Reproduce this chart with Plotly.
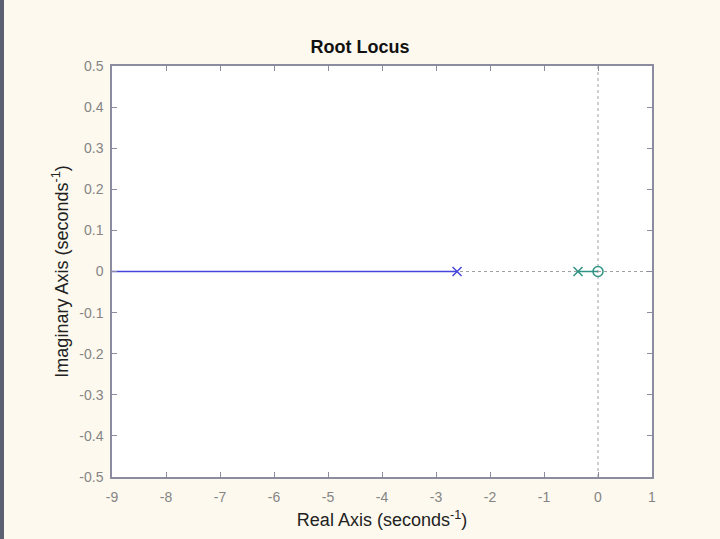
import plotly.graph_objects as go

# Root locus data
branch1_re = [-9.0, -2.61]
branch1_im = [0.0, 0.0]
branch2_re = [-0.37, 0.0]
branch2_im = [0.0, 0.0]
poles_re = [-2.61, -0.37]
poles_im = [0.0, 0.0]
zeros_re = [0.0]
zeros_im = [0.0]

x_ticks = [-9, -8, -7, -6, -5, -4, -3, -2, -1, 0, 1]
y_ticks = [-0.5, -0.4, -0.3, -0.2, -0.1, 0, 0.1, 0.2, 0.3, 0.4, 0.5]
y_labels = ["-0.5", "-0.4", "-0.3", "-0.2", "-0.1", "0",
            "0.1", "0.2", "0.3", "0.4", "0.5"]

blue = "#4646dc"
teal = "#2f9484"
axis_col = "#8c8ca0"

fig = go.Figure()

# dotted axes through the origin
fig.add_trace(go.Scatter(x=[-9, 1], y=[0, 0], mode="lines",
                         line=dict(color="#a0a0a0", width=1, dash="dot"),
                         hoverinfo="skip", showlegend=False))
fig.add_trace(go.Scatter(x=[0, 0], y=[-0.5, 0.5], mode="lines",
                         line=dict(color="#a0a0a0", width=1, dash="dot"),
                         hoverinfo="skip", showlegend=False))

fig.add_trace(go.Scatter(x=branch1_re, y=branch1_im, mode="lines",
                         line=dict(color=blue, width=1.5), showlegend=False))
fig.add_trace(go.Scatter(x=branch2_re, y=branch2_im, mode="lines",
                         line=dict(color=teal, width=1.5), showlegend=False))
fig.add_trace(go.Scatter(x=poles_re[:1], y=poles_im[:1], mode="markers",
                         marker=dict(symbol="x-thin", size=9, color=blue,
                                     line=dict(color=blue, width=1.5)),
                         showlegend=False))
fig.add_trace(go.Scatter(x=poles_re[1:], y=poles_im[1:], mode="markers",
                         marker=dict(symbol="x-thin", size=9, color=teal,
                                     line=dict(color=teal, width=1.5)),
                         showlegend=False))
fig.add_trace(go.Scatter(x=zeros_re, y=zeros_im, mode="markers",
                         marker=dict(symbol="circle-open", size=10, color=teal,
                                     line=dict(color=teal, width=1.5)),
                         showlegend=False))

L, R, T, B = 112, 68, 66, 62
W, H = 720, 539
pw, ph = W - L - R, H - T - B

# dark strip on the left edge of the screenshot
fig.add_shape(type="rect", xref="paper", yref="paper",
              x0=-L / pw, x1=(4 - L) / pw, y0=-B / ph, y1=(H - B) / ph,
              fillcolor="#5c6070", line_width=0, layer="below")

fig.update_layout(
    width=W, height=H,
    margin=dict(l=L, r=R, t=T, b=B),
    paper_bgcolor="#fdf9ee",
    plot_bgcolor="white",
    font=dict(family="Liberation Sans, Arial, sans-serif", color="#222222"),
    title=dict(text="<b>Root Locus</b>", x=0.5, xanchor="center",
               y=1 - 47 / H, yanchor="middle",
               font=dict(size=18, color="#111111")),
)

fig.update_xaxes(
    range=[-9, 1], tickvals=x_ticks, ticktext=[str(v) for v in x_ticks],
    showgrid=False, zeroline=False,
    showline=True, linecolor=axis_col, linewidth=1.5, mirror="ticks",
    ticks="inside", ticklen=5, tickcolor=axis_col,
    tickfont=dict(size=14, color="#858585"), ticklabelstandoff=6,
    title=dict(text="Real Axis (seconds<sup>-1</sup>)", standoff=10,
               font=dict(size=18, color="#222222")),
)
fig.update_yaxes(
    range=[-0.5, 0.5], tickvals=y_ticks, ticktext=y_labels,
    showgrid=False, zeroline=False,
    showline=True, linecolor=axis_col, linewidth=1.5, mirror="ticks",
    ticks="inside", ticklen=5, tickcolor=axis_col,
    tickfont=dict(size=14, color="#858585"), ticklabelstandoff=4,
    title=dict(text="Imaginary Axis (seconds<sup>-1</sup>)", standoff=6,
               font=dict(size=18, color="#222222")),
)

fig.write_html("out.html", config={"displayModeBar": False},
               post_script="document.body.style.margin='0';"
                           "document.body.style.background='#fdf9ee';")
